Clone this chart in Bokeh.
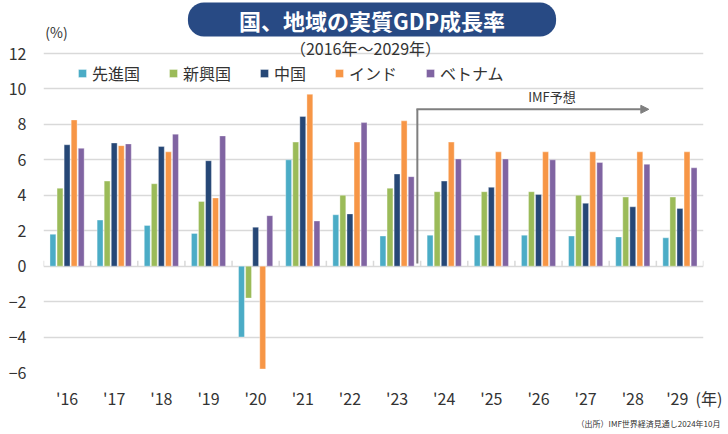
from bokeh.plotting import figure
from bokeh.models import (ColumnDataSource, FactorRange, Range1d, Label, FixedTicker,
                          Arrow, NormalHead, Title, CustomJSTickFormatter)
from bokeh.transform import dodge
from bokeh.embed import file_html
from bokeh.resources import INLINE

# ---- data ----
years = ["'16", "'17", "'18", "'19", "'20", "'21", "'22", "'23",
         "'24", "'25", "'26", "'27", "'28", "'29"]
series_names = ["先進国", "新興国", "中国", "インド", "ベトナム"]
advanced = [1.8, 2.6, 2.3, 1.85, -4.0, 6.0, 2.9, 1.7, 1.75, 1.75, 1.75, 1.7, 1.65, 1.6]
emerging = [4.4, 4.8, 4.65, 3.65, -1.8, 7.0, 4.0, 4.4, 4.2, 4.2, 4.2, 4.0, 3.9, 3.9]
china = [6.85, 6.95, 6.75, 5.95, 2.2, 8.45, 2.95, 5.2, 4.8, 4.45, 4.05, 3.55, 3.35, 3.25]
india = [8.25, 6.8, 6.45, 3.85, -5.8, 9.7, 7.0, 8.2, 7.0, 6.45, 6.45, 6.45, 6.45, 6.45]
vietnam = [6.65, 6.9, 7.45, 7.35, 2.85, 2.55, 8.1, 5.05, 6.05, 6.05, 6.0, 5.85, 5.75, 5.55]
y_ticks = [-6, -4, -2, 0, 2, 4, 6, 8, 10, 12]
forecast_from = "'23"
forecast_to = "'28"

colors = ["#4BACC6", "#9BBB59", "#264776", "#F79646", "#8064A2"]
FONT = "Noto Sans CJK JP"
TXT = "#333333"

source = ColumnDataSource(dict(year=years, advanced=advanced, emerging=emerging,
                               china=china, india=india, vietnam=vietnam))

W, H = 726, 432
FL, FR, FT, FBOT = 43, 703, 53, 372   # edges of the gridded area in canvas px
unit_px = (FBOT - FT) / (y_ticks[-1] - y_ticks[0])
y_top = y_ticks[-1] + FT / unit_px      # frame reaches the canvas top, header drawn inside
p = figure(width=W, height=H, x_range=FactorRange(*years), y_range=Range1d(y_ticks[0], y_top),
           output_backend="svg", toolbar_location=None, title_location=None,
           min_border_left=FL, min_border_right=W - FR, min_border_top=0,
           min_border_bottom=H - FBOT)
p.outline_line_color = None
p.background_fill_color = "white"

fields = ["advanced", "emerging", "china", "india", "vietnam"]
offsets = [-0.30, -0.15, 0.0, 0.15, 0.30]
for f, off, c, name in zip(fields, offsets, colors, series_names):
    p.vbar(x=dodge("year", off, range=p.x_range), top=f, bottom=0, width=0.125,
           source=source, fill_color=c, line_color="white", line_alpha=0.35,
           line_width=1, legend_label=name)

# grid / axes
p.xgrid.visible = False
p.ygrid.ticker = FixedTicker(ticks=y_ticks)
p.ygrid.grid_line_color = "#d9d9d9"
p.ygrid.grid_line_width = 1.5

p.yaxis.ticker = FixedTicker(ticks=y_ticks)
p.yaxis.axis_line_color = None
p.yaxis.major_tick_line_color = None
p.yaxis.minor_tick_line_color = None
p.yaxis.major_tick_out = 0
p.yaxis.major_tick_in = 0
p.yaxis.major_label_standoff = 17
p.yaxis.major_label_text_font = FONT
p.yaxis.major_label_text_font_size = "16px"
p.yaxis.major_label_text_color = TXT

p.xaxis.axis_line_color = None
p.xaxis.major_tick_line_color = None
p.xaxis.major_tick_out = 0
p.xaxis.major_tick_in = 0
p.xaxis.major_label_standoff = 13
p.xaxis.major_label_text_font = FONT
p.xaxis.major_label_text_font_size = "16px"
p.xaxis.major_label_text_color = TXT
# unit "(年)" shown right after the last year label (padding keeps '29 centred)
NB = "\u00a0"
p.xaxis.formatter = CustomJSTickFormatter(
    args=dict(last=years[-1], prefix=NB * 8, suffix=NB * 2 + "(年)"),
    code="return (tick == last) ? prefix + tick + suffix : tick;")

# category boundary ticks on the zero line
p.segment(x0=dodge("year", -0.5, range=p.x_range), y0=0,
          x1=dodge("year", -0.5, range=p.x_range), y1=0.3,
          source=source, line_color="#d9d9d9", line_width=1.5)
p.segment(x0=dodge("year", 0.5, range=p.x_range), y0=0,
          x1=dodge("year", 0.5, range=p.x_range), y1=0.3,
          source=ColumnDataSource(dict(year=[years[-1]])), line_color="#d9d9d9", line_width=1.5)

# IMF forecast bracket
x_start = years.index(forecast_from) + 0.5 + 0.43
x_end = years.index(forecast_to) + 0.5 + 0.34
p.line(x=[x_start, x_start], y=[0.15, 8.85], line_color="#7f7f7f", line_width=2)
p.add_layout(Arrow(end=NormalHead(size=8, fill_color="#7f7f7f", line_color="#7f7f7f"),
                   x_start=x_start - 0.02, y_start=8.85, x_end=x_end, y_end=8.85,
                   line_color="#7f7f7f", line_width=2))
p.add_layout(Label(x=(x_start + x_end) / 2 + 0.4, y=9.6, text="IMF予想", text_align="center",
                   text_baseline="middle", text_font=FONT, text_font_size="13px",
                   text_color=TXT))

# legend
lg = p.legend[0]
lg.orientation = "horizontal"
lg.location = (34, 287)
lg.padding = 0
lg.margin = 0
lg.spacing = 28
lg.glyph_width = 10
lg.glyph_height = 10
lg.label_standoff = 5
lg.label_text_font = FONT
lg.label_text_font_size = "16px"
lg.label_text_color = TXT
lg.background_fill_alpha = 0
lg.border_line_color = None

# header texts inside the frame (data units converted from canvas pixel positions)
px_per_cat = (FR - FL) / len(years)


def add_label(cx, cy, text, size, color=TXT, style="normal", **kw):
    p.add_layout(Label(x=(cx - FL) / px_per_cat, y=y_ticks[-1] + (FT - cy) / unit_px,
                       text=text, text_align="center", text_baseline="middle", text_font=FONT,
                       text_font_size=size, text_color=color, text_font_style=style, **kw))


add_label(371.5, 19, "国、地域の実質GDP成長率", "22px", color="white", style="bold",
          background_fill_color="#284A84", border_radius=16, padding=(51, 1))
add_label(365, 47, "（2016年～2029年）", "16px")
add_label(56, 31, "(%)", "14px")

# source note in the bottom panel
p.add_layout(Title(text="（出所）IMF世界経済見通し2024年10月", align="right", offset=-17,
                   standoff=6, text_font=FONT, text_font_size="8px",
                   text_font_style="normal", text_color=TXT), "below")

open("out.html", "w").write(file_html(p, INLINE))
